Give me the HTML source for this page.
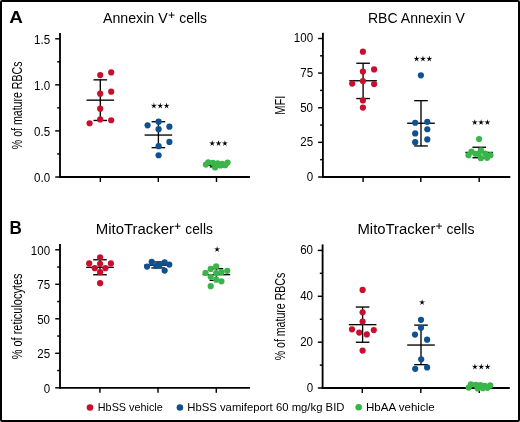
<!DOCTYPE html>
<html><head><meta charset="utf-8"><style>
html,body{margin:0;padding:0;background:#fff;}
body{width:520px;height:422px;overflow:hidden;}
svg{display:block;will-change:transform;}
text{font-family:"Liberation Sans",sans-serif;}
</style></head><body>
<svg width="520" height="422" viewBox="0 0 520 422">
<rect x="0" y="0" width="520" height="422" fill="#fff"/>
<rect x="1" y="1" width="518" height="420" rx="1" fill="none" stroke="#000" stroke-width="2"/>
<line x1="60" y1="33" x2="60" y2="177.925" stroke="#000" stroke-width="1.85"/>
<line x1="59.075" y1="177.0" x2="250" y2="177.0" stroke="#000" stroke-width="1.85"/>
<line x1="55.2" y1="38.8" x2="60" y2="38.8" stroke="#000" stroke-width="1.45"/>
<text x="34.04" y="43.55" font-size="11.90" textLength="16.05" lengthAdjust="spacingAndGlyphs" fill="#000">1.5</text>
<line x1="55.2" y1="84.85" x2="60" y2="84.85" stroke="#000" stroke-width="1.45"/>
<text x="34.01" y="89.60" font-size="11.90" textLength="16.05" lengthAdjust="spacingAndGlyphs" fill="#000">1.0</text>
<line x1="55.2" y1="130.9" x2="60" y2="130.9" stroke="#000" stroke-width="1.45"/>
<text x="34.04" y="135.65" font-size="11.90" textLength="16.05" lengthAdjust="spacingAndGlyphs" fill="#000">0.5</text>
<line x1="55.2" y1="177.0" x2="60" y2="177.0" stroke="#000" stroke-width="1.45"/>
<text x="34.01" y="181.75" font-size="11.90" textLength="16.05" lengthAdjust="spacingAndGlyphs" fill="#000">0.0</text>
<line x1="57.2" y1="61.824999999999996" x2="60" y2="61.824999999999996" stroke="#000" stroke-width="1.45"/>
<line x1="57.2" y1="107.875" x2="60" y2="107.875" stroke="#000" stroke-width="1.45"/>
<line x1="57.2" y1="153.95" x2="60" y2="153.95" stroke="#000" stroke-width="1.45"/>
<line x1="100.35" y1="177.0" x2="100.35" y2="182.0" stroke="#000" stroke-width="1.45"/>
<line x1="158.3" y1="177.0" x2="158.3" y2="182.0" stroke="#000" stroke-width="1.45"/>
<line x1="216.5" y1="177.0" x2="216.5" y2="182.0" stroke="#000" stroke-width="1.45"/>
<line x1="322.9" y1="32.8" x2="322.9" y2="177.925" stroke="#000" stroke-width="1.85"/>
<line x1="321.97499999999997" y1="177.0" x2="510.3" y2="177.0" stroke="#000" stroke-width="1.85"/>
<line x1="318.09999999999997" y1="38.5" x2="322.9" y2="38.5" stroke="#000" stroke-width="1.45"/>
<text x="293.80" y="42.40" font-size="11.90" textLength="19.26" lengthAdjust="spacingAndGlyphs" fill="#000">100</text>
<line x1="318.09999999999997" y1="73.1" x2="322.9" y2="73.1" stroke="#000" stroke-width="1.45"/>
<text x="300.25" y="77.00" font-size="11.90" textLength="12.84" lengthAdjust="spacingAndGlyphs" fill="#000">75</text>
<line x1="318.09999999999997" y1="107.75" x2="322.9" y2="107.75" stroke="#000" stroke-width="1.45"/>
<text x="300.21" y="111.65" font-size="11.90" textLength="12.84" lengthAdjust="spacingAndGlyphs" fill="#000">50</text>
<line x1="318.09999999999997" y1="142.35" x2="322.9" y2="142.35" stroke="#000" stroke-width="1.45"/>
<text x="300.25" y="146.25" font-size="11.90" textLength="12.84" lengthAdjust="spacingAndGlyphs" fill="#000">25</text>
<line x1="318.09999999999997" y1="177.0" x2="322.9" y2="177.0" stroke="#000" stroke-width="1.45"/>
<text x="306.63" y="180.90" font-size="11.90" textLength="6.42" lengthAdjust="spacingAndGlyphs" fill="#000">0</text>
<line x1="320.09999999999997" y1="55.8" x2="322.9" y2="55.8" stroke="#000" stroke-width="1.45"/>
<line x1="320.09999999999997" y1="90.425" x2="322.9" y2="90.425" stroke="#000" stroke-width="1.45"/>
<line x1="320.09999999999997" y1="125.05" x2="322.9" y2="125.05" stroke="#000" stroke-width="1.45"/>
<line x1="320.09999999999997" y1="159.675" x2="322.9" y2="159.675" stroke="#000" stroke-width="1.45"/>
<line x1="363.1" y1="177.0" x2="363.1" y2="182.0" stroke="#000" stroke-width="1.45"/>
<line x1="420.8" y1="177.0" x2="420.8" y2="182.0" stroke="#000" stroke-width="1.45"/>
<line x1="479.2" y1="177.0" x2="479.2" y2="182.0" stroke="#000" stroke-width="1.45"/>
<line x1="60" y1="244.0" x2="60" y2="388.725" stroke="#000" stroke-width="1.85"/>
<line x1="59.075" y1="387.8" x2="250" y2="387.8" stroke="#000" stroke-width="1.85"/>
<line x1="55.2" y1="249.8" x2="60" y2="249.8" stroke="#000" stroke-width="1.45"/>
<text x="30.80" y="254.55" font-size="11.90" textLength="19.26" lengthAdjust="spacingAndGlyphs" fill="#000">100</text>
<line x1="55.2" y1="284.3" x2="60" y2="284.3" stroke="#000" stroke-width="1.45"/>
<text x="37.25" y="289.05" font-size="11.90" textLength="12.84" lengthAdjust="spacingAndGlyphs" fill="#000">75</text>
<line x1="55.2" y1="318.8" x2="60" y2="318.8" stroke="#000" stroke-width="1.45"/>
<text x="37.21" y="323.55" font-size="11.90" textLength="12.84" lengthAdjust="spacingAndGlyphs" fill="#000">50</text>
<line x1="55.2" y1="353.3" x2="60" y2="353.3" stroke="#000" stroke-width="1.45"/>
<text x="37.25" y="358.05" font-size="11.90" textLength="12.84" lengthAdjust="spacingAndGlyphs" fill="#000">25</text>
<line x1="55.2" y1="387.8" x2="60" y2="387.8" stroke="#000" stroke-width="1.45"/>
<text x="43.63" y="392.55" font-size="11.90" textLength="6.42" lengthAdjust="spacingAndGlyphs" fill="#000">0</text>
<line x1="57.2" y1="267.05" x2="60" y2="267.05" stroke="#000" stroke-width="1.45"/>
<line x1="57.2" y1="301.55" x2="60" y2="301.55" stroke="#000" stroke-width="1.45"/>
<line x1="57.2" y1="336.05" x2="60" y2="336.05" stroke="#000" stroke-width="1.45"/>
<line x1="57.2" y1="370.55" x2="60" y2="370.55" stroke="#000" stroke-width="1.45"/>
<line x1="99.9" y1="387.8" x2="99.9" y2="392.8" stroke="#000" stroke-width="1.45"/>
<line x1="158" y1="387.8" x2="158" y2="392.8" stroke="#000" stroke-width="1.45"/>
<line x1="216.3" y1="387.8" x2="216.3" y2="392.8" stroke="#000" stroke-width="1.45"/>
<line x1="322.6" y1="244.4" x2="322.6" y2="388.925" stroke="#000" stroke-width="1.85"/>
<line x1="321.675" y1="388.0" x2="509.8" y2="388.0" stroke="#000" stroke-width="1.85"/>
<line x1="317.8" y1="250.4" x2="322.6" y2="250.4" stroke="#000" stroke-width="1.45"/>
<text x="300.21" y="253.95" font-size="11.90" textLength="12.84" lengthAdjust="spacingAndGlyphs" fill="#000">60</text>
<line x1="317.8" y1="296.3" x2="322.6" y2="296.3" stroke="#000" stroke-width="1.45"/>
<text x="300.21" y="299.85" font-size="11.90" textLength="12.84" lengthAdjust="spacingAndGlyphs" fill="#000">40</text>
<line x1="317.8" y1="342.2" x2="322.6" y2="342.2" stroke="#000" stroke-width="1.45"/>
<text x="300.21" y="345.75" font-size="11.90" textLength="12.84" lengthAdjust="spacingAndGlyphs" fill="#000">20</text>
<line x1="317.8" y1="388.0" x2="322.6" y2="388.0" stroke="#000" stroke-width="1.45"/>
<text x="306.63" y="391.55" font-size="11.90" textLength="6.42" lengthAdjust="spacingAndGlyphs" fill="#000">0</text>
<line x1="319.8" y1="273.35" x2="322.6" y2="273.35" stroke="#000" stroke-width="1.45"/>
<line x1="319.8" y1="319.25" x2="322.6" y2="319.25" stroke="#000" stroke-width="1.45"/>
<line x1="319.8" y1="365.1" x2="322.6" y2="365.1" stroke="#000" stroke-width="1.45"/>
<line x1="362.3" y1="388.0" x2="362.3" y2="393.0" stroke="#000" stroke-width="1.45"/>
<line x1="420.8" y1="388.0" x2="420.8" y2="393.0" stroke="#000" stroke-width="1.45"/>
<line x1="479.3" y1="388.0" x2="479.3" y2="393.0" stroke="#000" stroke-width="1.45"/>
<line x1="100.3" y1="79.85000000000001" x2="100.3" y2="120.45" stroke="#000" stroke-width="1.35"/>
<line x1="86.5" y1="100.15" x2="114.1" y2="100.15" stroke="#000" stroke-width="1.35"/>
<line x1="93.5" y1="79.85000000000001" x2="107.1" y2="79.85000000000001" stroke="#000" stroke-width="1.35"/>
<line x1="93.5" y1="120.45" x2="107.1" y2="120.45" stroke="#000" stroke-width="1.35"/>
<line x1="158.4" y1="121.75" x2="158.4" y2="147.65" stroke="#000" stroke-width="1.35"/>
<line x1="144.6" y1="135.05" x2="172.20000000000002" y2="135.05" stroke="#000" stroke-width="1.35"/>
<line x1="151.6" y1="121.75" x2="165.20000000000002" y2="121.75" stroke="#000" stroke-width="1.35"/>
<line x1="151.6" y1="147.65" x2="165.20000000000002" y2="147.65" stroke="#000" stroke-width="1.35"/>
<line x1="216.6" y1="163.65" x2="216.6" y2="166.85" stroke="#000" stroke-width="1.35"/>
<line x1="205.0" y1="165.25" x2="228.2" y2="165.25" stroke="#000" stroke-width="1.35"/>
<line x1="209.79999999999998" y1="163.65" x2="223.4" y2="163.65" stroke="#000" stroke-width="1.35"/>
<line x1="209.79999999999998" y1="166.85" x2="223.4" y2="166.85" stroke="#000" stroke-width="1.35"/>
<line x1="363.1" y1="63.25" x2="363.1" y2="98.55000000000001" stroke="#000" stroke-width="1.35"/>
<line x1="349.3" y1="80.75" x2="376.90000000000003" y2="80.75" stroke="#000" stroke-width="1.35"/>
<line x1="356.3" y1="63.25" x2="369.90000000000003" y2="63.25" stroke="#000" stroke-width="1.35"/>
<line x1="356.3" y1="98.55000000000001" x2="369.90000000000003" y2="98.55000000000001" stroke="#000" stroke-width="1.35"/>
<line x1="421.0" y1="100.65" x2="421.0" y2="145.95000000000002" stroke="#000" stroke-width="1.35"/>
<line x1="407.2" y1="123.25" x2="434.8" y2="123.25" stroke="#000" stroke-width="1.35"/>
<line x1="414.2" y1="100.65" x2="427.8" y2="100.65" stroke="#000" stroke-width="1.35"/>
<line x1="414.2" y1="145.95000000000002" x2="427.8" y2="145.95000000000002" stroke="#000" stroke-width="1.35"/>
<line x1="479.20000000000005" y1="147.25" x2="479.20000000000005" y2="157.75" stroke="#000" stroke-width="1.35"/>
<line x1="465.40000000000003" y1="152.45000000000002" x2="493.00000000000006" y2="152.45000000000002" stroke="#000" stroke-width="1.35"/>
<line x1="472.40000000000003" y1="147.25" x2="486.00000000000006" y2="147.25" stroke="#000" stroke-width="1.35"/>
<line x1="472.40000000000003" y1="157.75" x2="486.00000000000006" y2="157.75" stroke="#000" stroke-width="1.35"/>
<line x1="100.0" y1="259.75" x2="100.0" y2="274.75" stroke="#000" stroke-width="1.35"/>
<line x1="86.2" y1="267.34999999999997" x2="113.8" y2="267.34999999999997" stroke="#000" stroke-width="1.35"/>
<line x1="93.2" y1="259.75" x2="106.8" y2="259.75" stroke="#000" stroke-width="1.35"/>
<line x1="93.2" y1="274.75" x2="106.8" y2="274.75" stroke="#000" stroke-width="1.35"/>
<line x1="158.1" y1="261.95" x2="158.1" y2="267.95" stroke="#000" stroke-width="1.35"/>
<line x1="144.29999999999998" y1="265.15" x2="171.9" y2="265.15" stroke="#000" stroke-width="1.35"/>
<line x1="151.29999999999998" y1="261.95" x2="164.9" y2="261.95" stroke="#000" stroke-width="1.35"/>
<line x1="151.29999999999998" y1="267.95" x2="164.9" y2="267.95" stroke="#000" stroke-width="1.35"/>
<line x1="216.4" y1="268.65" x2="216.4" y2="280.34999999999997" stroke="#000" stroke-width="1.35"/>
<line x1="202.6" y1="274.65" x2="230.20000000000002" y2="274.65" stroke="#000" stroke-width="1.35"/>
<line x1="209.6" y1="268.65" x2="223.20000000000002" y2="268.65" stroke="#000" stroke-width="1.35"/>
<line x1="209.6" y1="280.34999999999997" x2="223.20000000000002" y2="280.34999999999997" stroke="#000" stroke-width="1.35"/>
<line x1="362.6" y1="307.04999999999995" x2="362.6" y2="342.25" stroke="#000" stroke-width="1.35"/>
<line x1="348.8" y1="324.65" x2="376.40000000000003" y2="324.65" stroke="#000" stroke-width="1.35"/>
<line x1="355.8" y1="307.04999999999995" x2="369.40000000000003" y2="307.04999999999995" stroke="#000" stroke-width="1.35"/>
<line x1="355.8" y1="342.25" x2="369.40000000000003" y2="342.25" stroke="#000" stroke-width="1.35"/>
<line x1="421.0" y1="325.15" x2="421.0" y2="364.65" stroke="#000" stroke-width="1.35"/>
<line x1="407.2" y1="345.04999999999995" x2="434.8" y2="345.04999999999995" stroke="#000" stroke-width="1.35"/>
<line x1="414.2" y1="325.15" x2="427.8" y2="325.15" stroke="#000" stroke-width="1.35"/>
<line x1="414.2" y1="364.65" x2="427.8" y2="364.65" stroke="#000" stroke-width="1.35"/>
<text x="9.33" y="23.20" font-size="17.40" font-weight="bold" textLength="13.67" lengthAdjust="spacingAndGlyphs" fill="#000">A</text>
<text x="9.56" y="234.30" font-size="17.70" font-weight="bold" textLength="12.31" lengthAdjust="spacingAndGlyphs" fill="#000">B</text>
<text x="102.97" y="23.00" font-size="14.00" textLength="64.69" lengthAdjust="spacingAndGlyphs" fill="#000">Annexin V</text>
<line x1="168.7" y1="15.1" x2="174.5" y2="15.1" stroke="#000" stroke-width="0.95"/>
<line x1="171.6" y1="12.2" x2="171.6" y2="18.0" stroke="#000" stroke-width="0.95"/>
<text x="179.22" y="23.00" font-size="14.00" textLength="27.78" lengthAdjust="spacingAndGlyphs" fill="#000">cells</text>
<text x="367.95" y="23.00" font-size="14.00" textLength="96.92" lengthAdjust="spacingAndGlyphs" fill="#000">RBC Annexin V</text>
<text x="95.78" y="234.00" font-size="14.00" textLength="78.28" lengthAdjust="spacingAndGlyphs" fill="#000">MitoTracker</text>
<line x1="174.7" y1="226.2" x2="180.5" y2="226.2" stroke="#000" stroke-width="0.95"/>
<line x1="177.6" y1="223.29999999999998" x2="177.6" y2="229.1" stroke="#000" stroke-width="0.95"/>
<text x="185.32" y="234.00" font-size="14.00" textLength="27.57" lengthAdjust="spacingAndGlyphs" fill="#000">cells</text>
<text x="357.48" y="234.00" font-size="14.00" textLength="77.87" lengthAdjust="spacingAndGlyphs" fill="#000">MitoTracker</text>
<line x1="436.15000000000003" y1="226.1" x2="441.95" y2="226.1" stroke="#000" stroke-width="0.95"/>
<line x1="439.05" y1="223.2" x2="439.05" y2="229.0" stroke="#000" stroke-width="0.95"/>
<text x="446.51" y="234.00" font-size="14.00" textLength="27.98" lengthAdjust="spacingAndGlyphs" fill="#000">cells</text>
<text transform="translate(22.00,149.18) rotate(-90)" x="0" y="0" font-size="14.50" textLength="87.67" lengthAdjust="spacingAndGlyphs">% of mature RBCs</text>
<text transform="translate(284.90,114.71) rotate(-90)" x="0" y="0" font-size="14.50" textLength="19.13" lengthAdjust="spacingAndGlyphs">MFI</text>
<text transform="translate(22.00,359.29) rotate(-90)" x="0" y="0" font-size="14.50" textLength="85.79" lengthAdjust="spacingAndGlyphs">% of reticulocytes</text>
<text transform="translate(284.90,360.28) rotate(-90)" x="0" y="0" font-size="14.50" textLength="87.56" lengthAdjust="spacingAndGlyphs">% of mature RBCs</text>
<text x="97.81" y="411.30" font-size="11.20" textLength="64.96" lengthAdjust="spacingAndGlyphs" fill="#000">HbSS vehicle</text>
<text x="187.27" y="411.30" font-size="11.20" textLength="157.18" lengthAdjust="spacingAndGlyphs" fill="#000">HbSS vamifeport 60 mg/kg BID</text>
<text x="365.95" y="411.30" font-size="11.20" textLength="68.75" lengthAdjust="spacingAndGlyphs" fill="#000">HbAA vehicle</text>
<circle cx="100.2" cy="75.05" r="3.1" fill="#c8102e"/>
<circle cx="111.2" cy="72.45" r="3.1" fill="#c8102e"/>
<circle cx="100.2" cy="93.65" r="3.1" fill="#c8102e"/>
<circle cx="111.2" cy="91.65" r="3.1" fill="#c8102e"/>
<circle cx="100.2" cy="108.65" r="3.1" fill="#c8102e"/>
<circle cx="100.2" cy="119.45" r="3.1" fill="#c8102e"/>
<circle cx="111.2" cy="120.25" r="3.1" fill="#c8102e"/>
<circle cx="89.6" cy="123.25" r="3.1" fill="#c8102e"/>
<circle cx="158.60000000000002" cy="121.65" r="3.1" fill="#0f5190"/>
<circle cx="147.60000000000002" cy="125.35000000000001" r="3.1" fill="#0f5190"/>
<circle cx="169.4" cy="126.65" r="3.1" fill="#0f5190"/>
<circle cx="158.60000000000002" cy="129.14999999999998" r="3.1" fill="#0f5190"/>
<circle cx="169.4" cy="141.95" r="3.1" fill="#0f5190"/>
<circle cx="158.60000000000002" cy="146.14999999999998" r="3.1" fill="#0f5190"/>
<circle cx="158.60000000000002" cy="155.25" r="3.1" fill="#0f5190"/>
<circle cx="205.9" cy="164.54999999999998" r="3.1" fill="#3ab54a"/>
<circle cx="208.20000000000002" cy="162.25" r="3.1" fill="#3ab54a"/>
<circle cx="212.8" cy="162.75" r="3.1" fill="#3ab54a"/>
<circle cx="217.70000000000002" cy="163.25" r="3.1" fill="#3ab54a"/>
<circle cx="222.10000000000002" cy="163.85" r="3.1" fill="#3ab54a"/>
<circle cx="227.60000000000002" cy="162.54999999999998" r="3.1" fill="#3ab54a"/>
<circle cx="215.10000000000002" cy="167.45" r="3.1" fill="#3ab54a"/>
<circle cx="225.20000000000002" cy="165.25" r="3.1" fill="#3ab54a"/>
<circle cx="220.3" cy="165.45" r="3.1" fill="#3ab54a"/>
<circle cx="362.90000000000003" cy="51.650000000000006" r="3.1" fill="#c8102e"/>
<circle cx="374.1" cy="69.45" r="3.1" fill="#c8102e"/>
<circle cx="362.90000000000003" cy="71.55" r="3.1" fill="#c8102e"/>
<circle cx="362.90000000000003" cy="81.05" r="3.1" fill="#c8102e"/>
<circle cx="352.2" cy="83.55" r="3.1" fill="#c8102e"/>
<circle cx="374.1" cy="84.05" r="3.1" fill="#c8102e"/>
<circle cx="362.90000000000003" cy="100.45" r="3.1" fill="#c8102e"/>
<circle cx="362.90000000000003" cy="107.55" r="3.1" fill="#c8102e"/>
<circle cx="420.90000000000003" cy="75.35000000000001" r="3.1" fill="#0f5190"/>
<circle cx="415.2" cy="122.75" r="3.1" fill="#0f5190"/>
<circle cx="427.3" cy="121.85000000000001" r="3.1" fill="#0f5190"/>
<circle cx="427.3" cy="129.25" r="3.1" fill="#0f5190"/>
<circle cx="415.2" cy="133.45" r="3.1" fill="#0f5190"/>
<circle cx="427.3" cy="139.45" r="3.1" fill="#0f5190"/>
<circle cx="415.2" cy="142.14999999999998" r="3.1" fill="#0f5190"/>
<circle cx="479.1" cy="139.04999999999998" r="3.1" fill="#3ab54a"/>
<circle cx="468.5" cy="155.14999999999998" r="3.1" fill="#3ab54a"/>
<circle cx="471.5" cy="151.64999999999998" r="3.1" fill="#3ab54a"/>
<circle cx="475.40000000000003" cy="153.85" r="3.1" fill="#3ab54a"/>
<circle cx="480.90000000000003" cy="150.25" r="3.1" fill="#3ab54a"/>
<circle cx="480.90000000000003" cy="158.14999999999998" r="3.1" fill="#3ab54a"/>
<circle cx="485.2" cy="153.54999999999998" r="3.1" fill="#3ab54a"/>
<circle cx="487.1" cy="157.85" r="3.1" fill="#3ab54a"/>
<circle cx="490.40000000000003" cy="155.14999999999998" r="3.1" fill="#3ab54a"/>
<circle cx="478.6" cy="153.85" r="3.1" fill="#3ab54a"/>
<circle cx="100.1" cy="257.25" r="3.1" fill="#c8102e"/>
<circle cx="89.2" cy="263.45" r="3.1" fill="#c8102e"/>
<circle cx="100.1" cy="263.84999999999997" r="3.1" fill="#c8102e"/>
<circle cx="110.89999999999999" cy="263.45" r="3.1" fill="#c8102e"/>
<circle cx="94.8" cy="268.15" r="3.1" fill="#c8102e"/>
<circle cx="105.39999999999999" cy="268.15" r="3.1" fill="#c8102e"/>
<circle cx="100.1" cy="272.15" r="3.1" fill="#c8102e"/>
<circle cx="100.1" cy="283.15" r="3.1" fill="#c8102e"/>
<circle cx="147.05" cy="266.55" r="3.1" fill="#0f5190"/>
<circle cx="151.70000000000002" cy="261.95" r="3.1" fill="#0f5190"/>
<circle cx="156.3" cy="265.95" r="3.1" fill="#0f5190"/>
<circle cx="159.5" cy="265.05" r="3.1" fill="#0f5190"/>
<circle cx="164.65" cy="262.25" r="3.1" fill="#0f5190"/>
<circle cx="169.3" cy="264.55" r="3.1" fill="#0f5190"/>
<circle cx="164.65" cy="270.55" r="3.1" fill="#0f5190"/>
<circle cx="216.20000000000002" cy="266.34999999999997" r="3.1" fill="#3ab54a"/>
<circle cx="210.70000000000002" cy="268.95" r="3.1" fill="#3ab54a"/>
<circle cx="205.5" cy="272.84999999999997" r="3.1" fill="#3ab54a"/>
<circle cx="216.20000000000002" cy="273.05" r="3.1" fill="#3ab54a"/>
<circle cx="221.4" cy="272.15" r="3.1" fill="#3ab54a"/>
<circle cx="227.20000000000002" cy="270.84999999999997" r="3.1" fill="#3ab54a"/>
<circle cx="210.70000000000002" cy="276.75" r="3.1" fill="#3ab54a"/>
<circle cx="216.20000000000002" cy="279.65" r="3.1" fill="#3ab54a"/>
<circle cx="221.4" cy="281.34999999999997" r="3.1" fill="#3ab54a"/>
<circle cx="210.70000000000002" cy="286.15" r="3.1" fill="#3ab54a"/>
<circle cx="362.6" cy="289.95" r="3.1" fill="#c8102e"/>
<circle cx="362.6" cy="312.25" r="3.1" fill="#c8102e"/>
<circle cx="362.6" cy="321.55" r="3.1" fill="#c8102e"/>
<circle cx="352.0" cy="329.34999999999997" r="3.1" fill="#c8102e"/>
<circle cx="359.2" cy="332.55" r="3.1" fill="#c8102e"/>
<circle cx="366.8" cy="334.45" r="3.1" fill="#c8102e"/>
<circle cx="373.8" cy="330.05" r="3.1" fill="#c8102e"/>
<circle cx="362.6" cy="350.55" r="3.1" fill="#c8102e"/>
<circle cx="421.0" cy="319.84999999999997" r="3.1" fill="#0f5190"/>
<circle cx="421.0" cy="327.75" r="3.1" fill="#0f5190"/>
<circle cx="415.0" cy="334.55" r="3.1" fill="#0f5190"/>
<circle cx="427.1" cy="339.65" r="3.1" fill="#0f5190"/>
<circle cx="421.2" cy="359.25" r="3.1" fill="#0f5190"/>
<circle cx="415.2" cy="368.84999999999997" r="3.1" fill="#0f5190"/>
<circle cx="427.1" cy="367.45" r="3.1" fill="#0f5190"/>
<circle cx="468.7" cy="387.55" r="3.1" fill="#3ab54a"/>
<circle cx="470.90000000000003" cy="384.45" r="3.1" fill="#3ab54a"/>
<circle cx="475.8" cy="384.75" r="3.1" fill="#3ab54a"/>
<circle cx="477.7" cy="388.45" r="3.1" fill="#3ab54a"/>
<circle cx="480.40000000000003" cy="385.05" r="3.1" fill="#3ab54a"/>
<circle cx="482.90000000000003" cy="388.15" r="3.1" fill="#3ab54a"/>
<circle cx="484.7" cy="385.75" r="3.1" fill="#3ab54a"/>
<circle cx="487.5" cy="387.84999999999997" r="3.1" fill="#3ab54a"/>
<circle cx="490.2" cy="385.45" r="3.1" fill="#3ab54a"/>
<polygon points="153.90,102.60 154.54,104.92 156.94,104.81 154.93,106.14 155.78,108.39 153.90,106.89 152.02,108.39 152.87,106.14 150.86,104.81 153.26,104.92" fill="#000"/>
<polygon points="160.25,102.60 160.89,104.92 163.29,104.81 161.28,106.14 162.13,108.39 160.25,106.89 158.37,108.39 159.22,106.14 157.21,104.81 159.61,104.92" fill="#000"/>
<polygon points="166.60,102.60 167.24,104.92 169.64,104.81 167.63,106.14 168.48,108.39 166.60,106.89 164.72,108.39 165.57,106.14 163.56,104.81 165.96,104.92" fill="#000"/>
<polygon points="212.20,140.30 212.84,142.62 215.24,142.51 213.23,143.84 214.08,146.09 212.20,144.59 210.32,146.09 211.17,143.84 209.16,142.51 211.56,142.62" fill="#000"/>
<polygon points="218.55,140.30 219.19,142.62 221.59,142.51 219.58,143.84 220.43,146.09 218.55,144.59 216.67,146.09 217.52,143.84 215.51,142.51 217.91,142.62" fill="#000"/>
<polygon points="224.90,140.30 225.54,142.62 227.94,142.51 225.93,143.84 226.78,146.09 224.90,144.59 223.02,146.09 223.87,143.84 221.86,142.51 224.26,142.62" fill="#000"/>
<polygon points="416.60,55.60 417.24,57.92 419.64,57.81 417.63,59.14 418.48,61.39 416.60,59.89 414.72,61.39 415.57,59.14 413.56,57.81 415.96,57.92" fill="#000"/>
<polygon points="422.95,55.60 423.59,57.92 425.99,57.81 423.98,59.14 424.83,61.39 422.95,59.89 421.07,61.39 421.92,59.14 419.91,57.81 422.31,57.92" fill="#000"/>
<polygon points="429.30,55.60 429.94,57.92 432.34,57.81 430.33,59.14 431.18,61.39 429.30,59.89 427.42,61.39 428.27,59.14 426.26,57.81 428.66,57.92" fill="#000"/>
<polygon points="474.75,119.20 475.39,121.52 477.79,121.41 475.78,122.74 476.63,124.99 474.75,123.49 472.87,124.99 473.72,122.74 471.71,121.41 474.11,121.52" fill="#000"/>
<polygon points="481.10,119.20 481.74,121.52 484.14,121.41 482.13,122.74 482.98,124.99 481.10,123.49 479.22,124.99 480.07,122.74 478.06,121.41 480.46,121.52" fill="#000"/>
<polygon points="487.45,119.20 488.09,121.52 490.49,121.41 488.48,122.74 489.33,124.99 487.45,123.49 485.57,124.99 486.42,122.74 484.41,121.41 486.81,121.52" fill="#000"/>
<polygon points="474.90,363.60 475.54,365.92 477.94,365.81 475.93,367.14 476.78,369.39 474.90,367.89 473.02,369.39 473.87,367.14 471.86,365.81 474.26,365.92" fill="#000"/>
<polygon points="481.25,363.60 481.89,365.92 484.29,365.81 482.28,367.14 483.13,369.39 481.25,367.89 479.37,369.39 480.22,367.14 478.21,365.81 480.61,365.92" fill="#000"/>
<polygon points="487.60,363.60 488.24,365.92 490.64,365.81 488.63,367.14 489.48,369.39 487.60,367.89 485.72,369.39 486.57,367.14 484.56,365.81 486.96,365.92" fill="#000"/>
<polygon points="217.10,246.30 217.74,248.62 220.14,248.51 218.13,249.84 218.98,252.09 217.10,250.59 215.22,252.09 216.07,249.84 214.06,248.51 216.46,248.62" fill="#000"/>
<polygon points="422.10,299.30 422.74,301.62 425.14,301.51 423.13,302.84 423.98,305.09 422.10,303.59 420.22,305.09 421.07,302.84 419.06,301.51 421.46,301.62" fill="#000"/>
<circle cx="90" cy="407.5" r="3.3" fill="#c8102e"/>
<circle cx="179.9" cy="407.5" r="3.3" fill="#0f5190"/>
<circle cx="358.7" cy="407.3" r="3.3" fill="#3ab54a"/>
</svg>
</body></html>
